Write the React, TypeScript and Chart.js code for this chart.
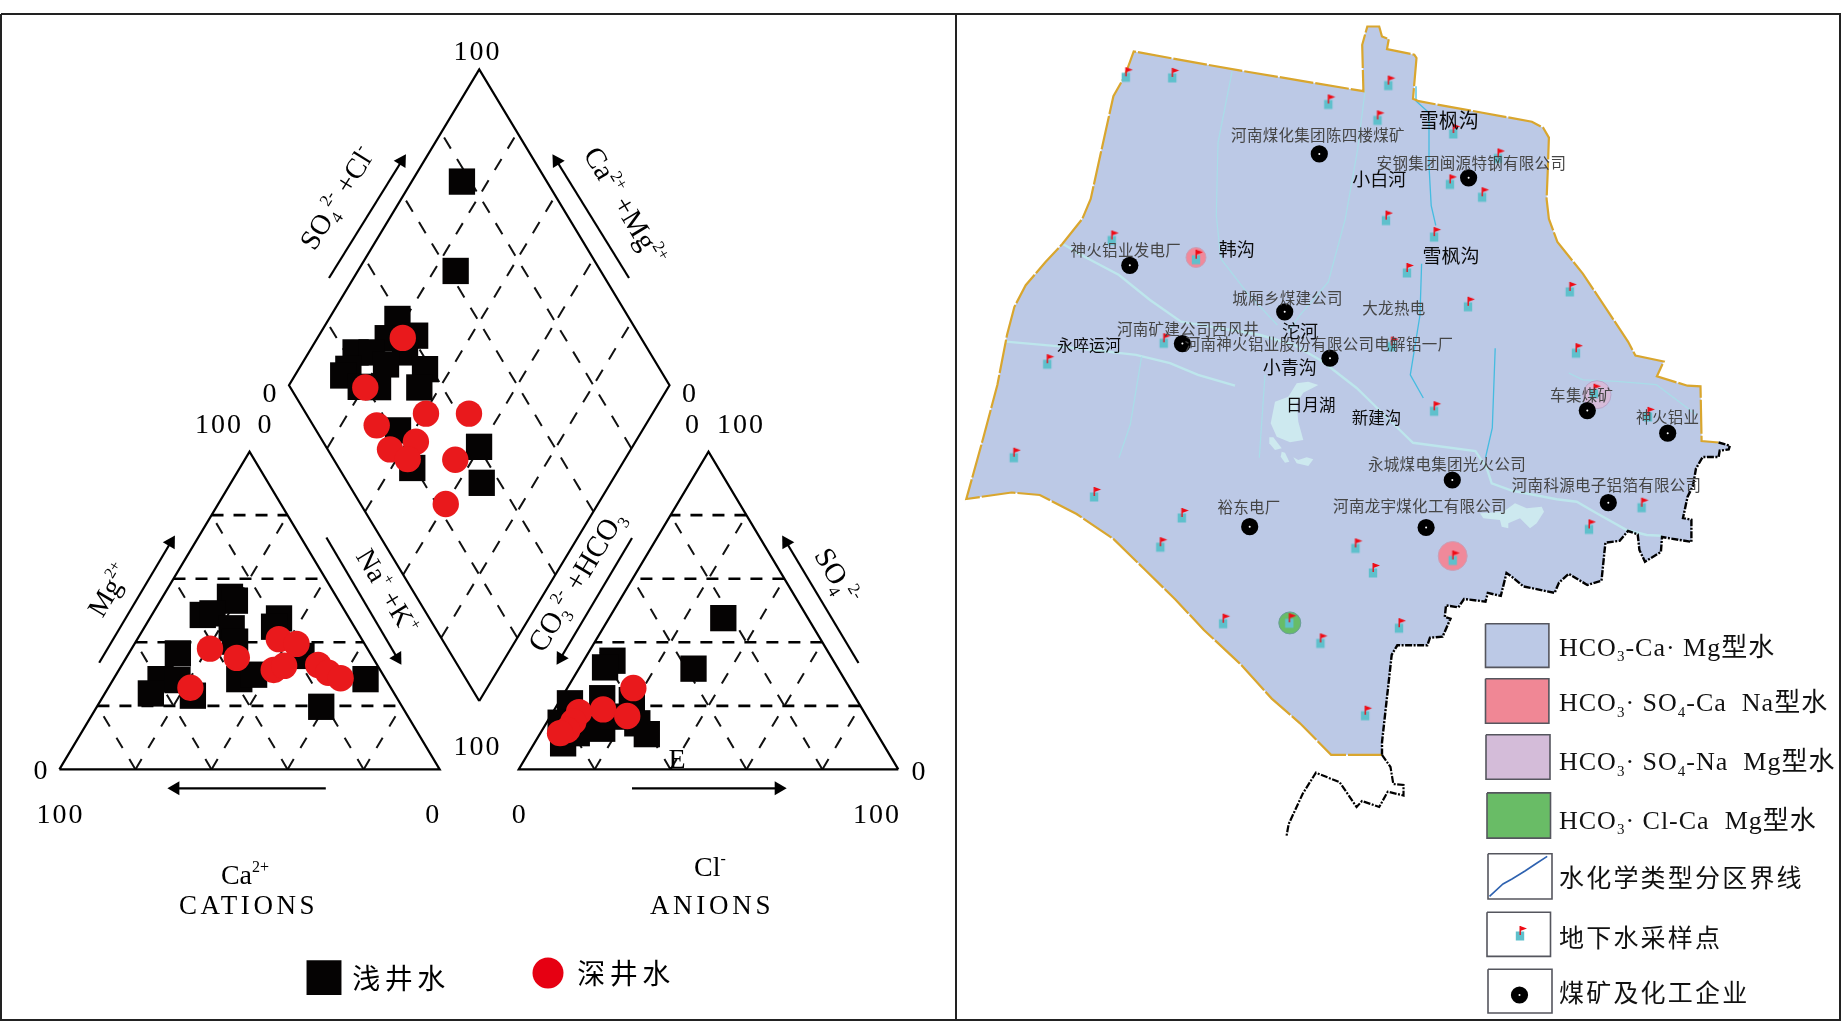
import React, { useEffect, useRef } from "react";
import { Chart, registerables } from "chart.js";

Chart.register(...registerables);

// ---------- Piper diagram values (percent) ----------
const gridLevels = [20, 40, 60, 80];

const diamondShallowSO4Cl = [77.7, 61.9, 39, 41, 33.4, 22.7, 26.9, 35.7, 18.2, 38.3, 28.8, 15.8, 18.6, 23.1, 33.9, 21.5, 19.3, 40.2, 35.2];
const diamondShallowCaMg = [86.8, 74.3, 82, 74.7, 81.5, 87.7, 83.5, 74.7, 87, 66.8, 77.8, 87.3, 80.9, 76.3, 65.4, 64.2, 54.5, 40.3, 33.9];
const diamondDeepSO4Cl = [37.4, 19.7, 31.5, 42.8, 16.7, 24.4, 16.4, 19.5, 31.9, 22.4];
const diamondDeepCaMg = [77.6, 79.6, 59.5, 48.2, 70.6, 57.7, 63.3, 57.1, 44.5, 40];

const cationShallowCa = [28, 27.3, 38, 35.2, 32.5, 33.7, 50.6, 59.2, 64, 54.9, 53.3, 38.5, 33.9, 18.5, 21.1, 18.5, 5.3, 21.3];
const cationShallowMg = [54.3, 53.1, 48.6, 49.1, 44.4, 40.2, 36.5, 28.4, 23.9, 28.1, 23.2, 28.4, 29.8, 47.5, 44.9, 35.7, 28.4, 19.7];
const cationDeepCa = [41.4, 35.8, 52.7, 21.8, 17.9, 28, 24.6, 15.5, 14.1, 11.7];
const cationDeepMg = [38, 35.1, 25.7, 41, 39.5, 31.3, 32.6, 32.9, 30.4, 28.7];

const anionShallowCl = [7.6, 6.7, 30.2, 30.1, 3.1, 3.7, 7.6, 10.8, 18.9, 15.6, 24, 28.2, 16.6, 9.6];
const anionShallowSO4 = [34.2, 32.1, 31.7, 47.6, 20.8, 14.7, 8.2, 22.4, 21.8, 12.8, 14.5, 11.1, 16.6, 11.4];
const anionDeepCl = [17.4, 12.8, 20.2, 6.9, 6.9, 6.6, 5.2];
const anionDeepSO4 = [25.6, 18.9, 16.8, 18, 15, 12.4, 11.4];

// ---------- Map values (map sheet units) ----------
type P = [number, number];
const goldBoundary: P[] = [
  [1382, 754.8], [1331.1, 754.8], [1300, 723.3], [1271.7, 698.6], [1240.6, 664.3], [1203.9, 630], [1175.6, 599.7], [1144.5, 569.3], [1113.4, 538.9], [1076.6, 514], [1039.8, 495], [1011.6, 492.5], [966.3, 499],
  [983.3, 437.8], [997.4, 384.7], [1007, 335], [1014.4, 306.8], [1025.7, 285.2], [1045.5, 262], [1062.5, 243.8], [1082.3, 218.9], [1090.7, 199], [1100.9, 152.6], [1113.4, 96.2], [1124.7, 76.3], [1133.7, 51.4],
  [1235, 69.7], [1363.4, 91.2], [1362.2, 44.8], [1367.3, 26.5], [1379.2, 26.5], [1382, 36.5], [1388.8, 39.1], [1387, 49.1], [1414.3, 54.7], [1416.5, 58], [1413, 98.8], [1418.8, 101.2],
  [1531.9, 121.7], [1543.2, 127.7], [1548.9, 137.6], [1547.7, 172.5], [1546.6, 199], [1548.9, 218.9], [1557.4, 242], [1582.8, 273.6], [1608.3, 311.8], [1628, 341.6], [1635.4, 355.6], [1663.7, 361.5], [1656.9, 376.4], [1687.5, 385.7], [1700.5, 386.4], [1701.6, 441], [1718.6, 442.5],
];
const blackBoundary: P[] = [
  [1718.6, 442.5], [1729.9, 445.7], [1728.7, 449.5], [1719.7, 450.6], [1718.6, 457], [1702.7, 457], [1696, 468.5], [1693, 485.6], [1687.5, 497], [1683, 518], [1691.4, 519.8], [1691.4, 541.9], [1662, 537], [1660.9, 552], [1645, 561.7], [1639.4, 550], [1637.7, 534.3], [1628, 531], [1619.6, 540.8], [1605.4, 542.7], [1601.5, 580.7], [1587.3, 585], [1568.7, 573.8], [1559, 582.6], [1554.6, 592.9], [1523.4, 586.4], [1512, 576.9], [1506.5, 573], [1500.8, 595.9], [1487.8, 592.9], [1485.5, 601.6], [1464, 599], [1458.4, 607.3], [1446, 605.4], [1444.8, 616.8], [1450.5, 618.7], [1442.6, 636.6], [1430, 637.7], [1427.3, 645.3], [1397.3, 645.3], [1391.7, 654.8], [1382, 742.3], [1382, 754.8],
];
const tailBoundary: P[] = [
  [1382, 754.8], [1390.5, 767], [1393.3, 784], [1403.5, 785], [1403.5, 795.5], [1387.7, 791.7], [1379.2, 807], [1362, 801], [1356.6, 807], [1339.6, 782.2], [1315.9, 772.7], [1302.8, 793.6], [1288.7, 824], [1286.4, 836.6],
];
const paleRivers: P[][] = [
  [[1062.5, 243.8], [1085, 257], [1119, 275], [1150, 300], [1181, 321.7], [1260.4, 335], [1294.4, 345], [1322.6, 361.5], [1356.6, 388], [1390.5, 421], [1413, 442.8], [1475.4, 451], [1486.7, 468], [1491.7, 483.3], [1511.7, 490.7], [1556.7, 499.3], [1576.7, 501.7], [1596.7, 513.3], [1626.7, 530], [1646.7, 535], [1661.7, 535.7]],
  [[1005.9, 341.6], [1062.5, 346.6], [1136, 354.9], [1170, 363.2], [1198, 374.8], [1235, 385.7]],
];
const thinRivers: P[][] = [
  [[1232.1, 71.3], [1218, 142.6], [1216.3, 215.6], [1220.8, 258.7], [1249, 295.2], [1277.4, 325]],
  [[1365, 91.2], [1357.7, 149], [1345.3, 218.9], [1328.3, 281.9], [1300, 315], [1288.7, 331.7]],
  [[1141.6, 356.6], [1130.3, 424.5], [1119, 457.7]],
  [[1265, 374.8], [1259.3, 457.7]],
  [[1568.7, 373], [1582.8, 379.8], [1616.8, 381.4], [1656.4, 384.7], [1696, 414.6]],
];
const brightRivers: P[][] = [
  [[1416, 86.2], [1416, 101], [1429, 112.8], [1429, 165.8], [1431.2, 205.6], [1435.8, 225.5]],
  [[1421.6, 263.7], [1420, 315], [1410.3, 374.8], [1423.3, 398]],
  [[1495.2, 348.3], [1492.3, 427.9], [1485.5, 457.7]],
];
const lakes: P[][] = [
  [[1275, 401.7], [1288.3, 396.7], [1296.7, 383.3], [1308.3, 381.7], [1318.3, 385], [1303.3, 392.7], [1296.7, 403.3], [1298.3, 421.7], [1303.3, 440], [1290, 442.3], [1276.7, 436.7], [1270.7, 423.3]],
  [[1269.3, 437.3], [1273.3, 437.3], [1281.7, 448.3], [1275, 450], [1269.3, 443.3]],
  [[1281.7, 451.7], [1285, 452.7], [1289.3, 461.7], [1285, 462.7], [1280.7, 456.7]],
  [[1293.3, 457.3], [1298.3, 460], [1306.7, 457.3], [1313.3, 459.3], [1308.3, 466], [1296.7, 463.3]],
  [[1480, 513.3], [1503.3, 511.7], [1515, 503.3], [1526.7, 508.3], [1541.7, 506.7], [1544, 511.7], [1536.7, 523.3], [1530, 528.3], [1520, 518.3], [1508.3, 523.3], [1508.3, 528.3], [1501.7, 526.7], [1500, 520], [1483.3, 518.3]],
];
const samplingSites: P[] = [
  [1125.8, 77.3], [1172.2, 77.9], [1328.3, 104.5], [1388.3, 85.6], [1377.5, 120.4], [1453.3, 134], [1498, 158.5], [1449.9, 184.4], [1482.1, 197.3], [1386, 220.6], [1434.1, 237.1], [1111.7, 240.5], [1196, 259.7], [1406.9, 273], [1569.8, 291.9], [1468, 306.8], [1163.7, 343.3], [1391.6, 346.6], [1576, 353.2], [1047.2, 364.2], [1594, 393.7], [1434.1, 411.3], [1647.9, 416.9], [1013.8, 457.7],
  [1094.1, 497], [1181.8, 518], [1160.3, 547.2], [1355.4, 548.4], [1373, 573], [1452.7, 560.5], [1589, 529.4], [1641.6, 507.7], [1223.1, 623.7], [1289.3, 623.3], [1320.4, 643.4], [1399, 628.2], [1365.1, 715.7],
];
const enterprises: P[] = [
  [1319.3, 153.9], [1468.6, 177.8], [1129.8, 265.3], [1284.7, 311.8], [1182.4, 343.6], [1330, 358.2], [1587.3, 410.6], [1667.7, 433.2], [1452.3, 480], [1608.3, 502.7], [1249.7, 526.7], [1426.1, 527.5],
];
const pinkZones: P[] = [[1196, 257.5], [1452.7, 556]];
const purpleZones: P[] = [[1597, 394.7]];
const greenZones: P[] = [[1289.8, 622.9]];

const facilityNames = ["河南煤化集团陈四楼煤矿", "安钢集团闽源特钢有限公司", "神火铝业发电厂", "城厢乡煤建公司", "大龙热电", "河南矿建公司西风井", "河南神火铝业股份有限公司电解铝一厂", "车集煤矿", "神火铝业", "永城煤电集团光火公司", "河南科源电子铝箔有限公司", "裕东电厂", "河南龙宇煤化工有限公司"];
const waterNames = ["雪枫沟", "小白河", "韩沟", "雪枫沟", "沱河", "永啐运河", "小青沟", "日月湖", "新建沟"];
const legendNames = ["HCO_{3}-Ca· Mg型水", "HCO_{3}· SO_{4}-Ca  Na型水", "HCO_{3}· SO_{4}-Na  Mg型水", "HCO_{3}· Cl-Ca  Mg型水", "水化学类型分区界线", "地下水采样点", "煤矿及化工企业"];
const seriesNames = ["浅井水", "深井水"];

// ---------- Layout ----------
const facilityAt: P[] = [[1318, 135.5], [1471.4, 164], [1125.8, 250.5], [1287.6, 299.3], [1393.9, 309.3], [1188, 330.2], [1319, 345.1], [1581.7, 396.2], [1667.7, 417.8], [1447, 464.5], [1606.6, 486.1], [1249, 508.3], [1420, 507.3]];
const waterAt: P[] = [[1448.8, 121], [1379.2, 180], [1236.7, 250.5], [1451, 257], [1300, 332], [1089, 346], [1289.8, 368.5], [1310.8, 405.5], [1376.4, 419]];
const waterSizes = [20, 18, 18, 19, 18, 16, 18, 16.5, 16.5];
const swatchBoxes = [[1485.5, 623.7, 1548.9, 667.4], [1485.5, 678.8, 1548.9, 723.3], [1486, 734.7, 1550, 779.2], [1487, 792.9, 1550.5, 838.1], [1488, 853.7, 1552, 899], [1487, 912.2, 1550.5, 956.4], [1488, 969.3, 1552, 1013]];
const swatchColors = ["#BCC9E6", "#F08795", "#D4BCD9", "#69BC66", "#FFFFFF", "#FFFFFF", "#FFFFFF"];
const legendRowY = [647, 702.4, 761.3, 820, 879, 939, 994];

const SERIF = '"Liberation Serif","Noto Sans CJK SC"';
const SANS = '"Noto Sans CJK SC"';
type Lab = { t: string; x: number; y: number; s: number; c?: string; r?: number; f?: string; a?: CanvasTextAlign; sp?: number };
const axisTexts: Lab[] = [
  { t: "100", x: 477.6, y: 51, s: 28, sp: 2 },
  { t: "0", x: 269.4, y: 392.6, s: 28 },
  { t: "100", x: 219, y: 424, s: 28, sp: 2 },
  { t: "0", x: 264.5, y: 424, s: 28 },
  { t: "0", x: 689, y: 392.6, s: 28 },
  { t: "0", x: 692, y: 424, s: 28 },
  { t: "100", x: 741, y: 424, s: 28, sp: 2 },
  { t: "0", x: 40.4, y: 769.4, s: 28 },
  { t: "100", x: 60.6, y: 813.5, s: 28, sp: 2 },
  { t: "0", x: 432.3, y: 813.5, s: 28 },
  { t: "0", x: 518.7, y: 813.5, s: 28 },
  { t: "100", x: 877, y: 813.5, s: 28, sp: 2 },
  { t: "100", x: 477.6, y: 746.2, s: 28, sp: 2 },
  { t: "0", x: 918.6, y: 771, s: 28 },
  { t: "E", x: 677, y: 759, s: 28 },
  { t: "Ca^{2+}", x: 245, y: 875, s: 28 },
  { t: "CATIONS", x: 248.6, y: 904.7, s: 27, sp: 3.6 },
  { t: "Cl^{-}", x: 710, y: 866.8, s: 28 },
  { t: "ANIONS", x: 712, y: 904.7, s: 27, sp: 3.7 },
  { t: "SO_{4}^{2-} +Cl^{-}", x: 337, y: 198, s: 28.5, r: -58 },
  { t: "Ca^{2+} +Mg^{2+}", x: 625, y: 206, s: 29, r: 59 },
  { t: "Mg^{2+}", x: 109, y: 590, s: 28, r: -59 },
  { t: "Na^{+} +K^{+}", x: 387.3, y: 591.5, s: 28, r: 59 },
  { t: "CO_{3}^{2-} +HCO_{3}", x: 576, y: 581, s: 29.5, r: -59 },
  { t: "SO_{4}^{2-}", x: 837, y: 576, s: 29, r: 59 },
];

function App() {
  const ref = useRef<HTMLCanvasElement | null>(null);
  useEffect(() => {
    if (!ref.current) return;

    const diamondXY = (a: number, b: number) => ({ x: 479.25 + 1.9025 * (a - b), y: 701 - 3.1575 * (a + b) });
    const cationXY = (ca: number, mg: number) => ({ x: 439.7 - 3.803 * (ca + mg / 2), y: 769.4 - 3.178 * mg });
    const anionXY = (cl: number, so4: number) => ({ x: 518.7 + 3.796 * (cl + so4 / 2), y: 769.4 - 3.178 * so4 });
    const xy = (pts: P[]) => pts.map(([x, y]) => ({ x, y }));

    // flag marker
    const flag = document.createElement("canvas");
    flag.width = 26; flag.height = 26;
    const fc = flag.getContext("2d")!;
    fc.fillStyle = "#5FC0CC";
    fc.fillRect(13 - 4.2, 13 - 4.5, 8.4, 9);
    fc.strokeStyle = "#E8101A"; fc.lineWidth = 1.4;
    fc.beginPath(); fc.moveTo(13.2, 13 - 10); fc.lineTo(13.2, 13 - 1); fc.stroke();
    fc.fillStyle = "#F00A14";
    fc.beginPath(); fc.moveTo(13.2, 13 - 10); fc.lineTo(20, 13 - 7.4); fc.lineTo(13.2, 13 - 5); fc.closePath(); fc.fill();

    const ds: any[] = [];
    const line = (pts: { x: number; y: number }[], color: string, width: number, dash: number[] = [], extra: any = {}) =>
      ds.push({ data: pts, showLine: true, borderColor: color, borderWidth: width, borderDash: dash, pointRadius: 0, tension: 0, borderCapStyle: "butt", borderJoinStyle: "miter", ...extra });
    const marks = (pts: { x: number; y: number }[], style: any, radius: number, color: string, extra: any = {}) =>
      ds.push({ data: pts, showLine: false, pointStyle: style, pointRadius: radius, pointBackgroundColor: color, pointBorderWidth: 0, pointBorderColor: color, ...extra });
    const poly = (pts: { x: number; y: number }[], fillColor: string, stroke = "rgba(0,0,0,0)", w = 0) =>
      line([...pts, pts[0]], stroke, w, [], { polyFill: fillColor });
    const arrow = (from: P, to: P, rot: number) =>
      line(xy([from, to]), "#000", 2.2, [], { pointRadius: [0, 8], pointStyle: "triangle", pointRotation: rot, pointBackgroundColor: "#000", pointBorderWidth: 0 });

    // frame
    line(xy([[1, 14], [1840, 14], [1840, 1020], [1, 1020], [1, 14]]), "#222", 2);
    line(xy([[956, 14], [956, 1020]]), "#222", 2);

    // diamond grid
    const GD = "#111";
    gridLevels.forEach((v) => {
      line([diamondXY(v, 0), diamondXY(v, 100)], GD, 2, [13, 12]);
      line([diamondXY(0, v), diamondXY(100, v)], GD, 2, [13, 12]);
    });
    line([diamondXY(0, 0), diamondXY(100, 0), diamondXY(100, 100), diamondXY(0, 100), diamondXY(0, 0)], "#000", 2.2);

    // ternary grids
    const tern = (fn: (p: number, q: number) => { x: number; y: number }) => {
      gridLevels.forEach((v) => {
        line([fn(100 - v, v), fn(0, v)], "#000", 2.6, [12, 10]);
        line([fn(v, 0), fn(v, 100 - v)], GD, 2, [12, 13]);
        line([fn(100 - v, 0), fn(0, 100 - v)], GD, 2, [12, 13]);
      });
      line([fn(100, 0), fn(0, 0), fn(0, 100), fn(100, 0)], "#000", 2.2);
    };
    tern(cationXY);
    tern(anionXY);

    // arrows
    arrow([329, 278], [401.7, 161], 32);
    arrow([629, 278], [556.7, 161], -32);
    arrow([99.2, 662.7], [170.8, 542.3], 31);
    arrow([326.4, 537.5], [397.3, 658], 149);
    arrow([632, 538], [560.7, 658], -149);
    arrow([858.5, 663], [786.3, 542.3], -31);
    arrow([325.8, 788.3], [175.4, 788.3], -90);
    arrow([632, 788.3], [778.7, 788.3], 90);

    // shallow squares then deep circles
    const SQ = 18.6, RED = "#E9191C", BLK = "#050303";
    marks(diamondShallowSO4Cl.map((a, i) => diamondXY(a, diamondShallowCaMg[i])), "rect", SQ, BLK);
    marks(cationShallowCa.map((a, i) => cationXY(a, cationShallowMg[i])), "rect", SQ, BLK);
    marks(anionShallowCl.map((a, i) => anionXY(a, anionShallowSO4[i])), "rect", SQ, BLK);
    marks(diamondDeepSO4Cl.map((a, i) => diamondXY(a, diamondDeepCaMg[i])), "circle", 13.2, RED);
    marks(cationDeepCa.map((a, i) => cationXY(a, cationDeepMg[i])), "circle", 13.2, RED);
    marks(anionDeepCl.map((a, i) => anionXY(a, anionDeepSO4[i])), "circle", 13.2, RED);
    marks(xy([[324, 977.6]]), "rect", 24.7, BLK);
    marks(xy([[548, 973]]), "circle", 15.5, "#E60012");

    // map
    poly(xy([...goldBoundary, ...blackBoundary]), "#BCC9E6");
    lakes.forEach((l) => poly(xy(l), "#CDE9EF"));
    paleRivers.forEach((r) => line(xy(r), "#BDE6EC", 2.4));
    thinRivers.forEach((r) => line(xy(r), "#A9DDE8", 1.2));
    brightRivers.forEach((r) => line(xy(r), "#45BCE0", 1.3));
    marks(xy([pinkZones[0]]), "circle", 10, "#F0899A", { pointBorderWidth: 1, pointBorderColor: "#C9A0B8" });
    marks(xy([pinkZones[1]]), "circle", 14.5, "#F0899A", { pointBorderWidth: 1, pointBorderColor: "#C9A0B8" });
    marks(xy(purpleZones), "circle", 14, "#D6BBD9", { pointBorderWidth: 1, pointBorderColor: "#B9A8CC" });
    marks(xy(greenZones), "circle", 11, "#68BC68", { pointBorderWidth: 1, pointBorderColor: "#6A9E9A" });
    line(xy(goldBoundary), "#D9A62E", 2.2, [34, 2]);
    line(xy(blackBoundary), "#000", 2.4, [7, 1.5, 2, 1.5]);
    line(xy(tailBoundary), "#000", 2.2, [7, 1.5, 2, 1.5]);

    // map legend swatches
    swatchBoxes.forEach(([x0, y0, x1, y1], i) => {
      poly(xy([[x0, y0], [x1, y0], [x1, y1], [x0, y1]]), swatchColors[i], "#55565E", 1.6);
    });
    line(xy([[1489.5, 896.3], [1503, 884], [1512, 879], [1525, 871], [1537, 863], [1547.2, 856.3]]), "#2E62B0", 1.6);

    // markers
    marks(xy([...samplingSites, [1520, 936]]), flag, 8, "#000");
    marks(xy([...enterprises, [1519.5, 995]]), "circle", 8.6, "#000");
    marks(xy([...enterprises, [1519.5, 995]]), "circle", 1, "#fff");

    ds.forEach((d, i) => { d.order = -i; });

    const polyPlugin = {
      id: "polyFill",
      beforeDatasetDraw(chart: any, args: any) {
        const d = chart.data.datasets[args.index];
        if (!d.polyFill) return;
        const pts = args.meta.data;
        const c = chart.ctx;
        c.save();
        c.fillStyle = d.polyFill;
        c.beginPath();
        pts.forEach((p: any, i: number) => (i ? c.lineTo(p.x, p.y) : c.moveTo(p.x, p.y)));
        c.closePath();
        c.fill();
        c.restore();
      },
    };

    const drawRich = (c: CanvasRenderingContext2D, l: Lab, X: number, Y: number) => {
      const parts = l.t.split(/(_\{[^}]*\}|\^\{[^}]*\})/).filter(Boolean).map((p) => {
        if (p.startsWith("_{")) return { t: p.slice(2, -1), k: "sub" };
        if (p.startsWith("^{")) return { t: p.slice(2, -1), k: "sup" };
        return { t: p, k: "n" };
      });
      const family = l.f || SERIF;
      const fontOf = (k: string) => `${k === "n" ? l.s : Math.round(l.s * 0.58)}px ${family}`;
      (c as any).letterSpacing = `${l.sp || 0}px`;
      const widths = parts.map((p) => { c.font = fontOf(p.k); return c.measureText(p.t).width; });
      const total = widths.reduce((a, b) => a + b, 0);
      c.save();
      c.translate(X, Y);
      c.rotate(((l.r || 0) * Math.PI) / 180);
      c.fillStyle = l.c || "#000";
      c.textBaseline = "alphabetic";
      c.textAlign = "left";
      let cx = l.a === "left" ? 0 : -total / 2;
      const base = l.s * 0.33;
      parts.forEach((p, i) => {
        c.font = fontOf(p.k);
        const dy = p.k === "sub" ? l.s * 0.22 : p.k === "sup" ? -l.s * 0.42 : 0;
        c.fillText(p.t, cx, base + dy);
        cx += widths[i];
      });
      c.restore();
      (c as any).letterSpacing = "0px";
    };

    const textPlugin = {
      id: "texts",
      afterDatasetsDraw(chart: any) {
        const c = chart.ctx, sx = chart.scales.x, sy = chart.scales.y;
        const put = (l: Lab) => drawRich(c, l, sx.getPixelForValue(l.x), sy.getPixelForValue(l.y));
        axisTexts.forEach(put);
        put({ t: seriesNames[0], x: 401, y: 980, s: 28, f: SANS, sp: 4.5 });
        put({ t: seriesNames[1], x: 626, y: 975, s: 28, f: SANS, sp: 4.5 });
        facilityNames.forEach((t, i) => put({ t, x: facilityAt[i][0], y: facilityAt[i][1], s: 15.5, c: "#454545", f: SANS, sp: 0.3 }));
        waterNames.forEach((t, i) => put({ t, x: waterAt[i][0], y: waterAt[i][1], s: waterSizes[i], c: "#0A0A0A", f: SANS }));
        legendNames.forEach((t, i) => put({ t, x: 1559, y: legendRowY[i], s: i < 4 ? 26 : 25, c: "#111", a: "left", sp: i < 4 ? 1 : 2.2 }));
      },
    };

    const chart = new Chart(ref.current, {
      type: "scatter",
      data: { datasets: ds },
      options: {
        responsive: false,
        animation: false,
        layout: { padding: 0, autoPadding: false },
        plugins: { legend: { display: false }, tooltip: { enabled: false } },
        scales: {
          x: { type: "linear", min: 0, max: 1842, display: false },
          y: { type: "linear", min: 0, max: 1036, reverse: true, display: false },
        },
      },
      plugins: [polyPlugin, textPlugin],
    } as any);
    return () => chart.destroy();
  }, []);
  return <canvas ref={ref} width={1842} height={1036} style={{ position: "fixed", left: 0, top: 0, display: "block", background: "#fff" }} />;
}

export default App;
